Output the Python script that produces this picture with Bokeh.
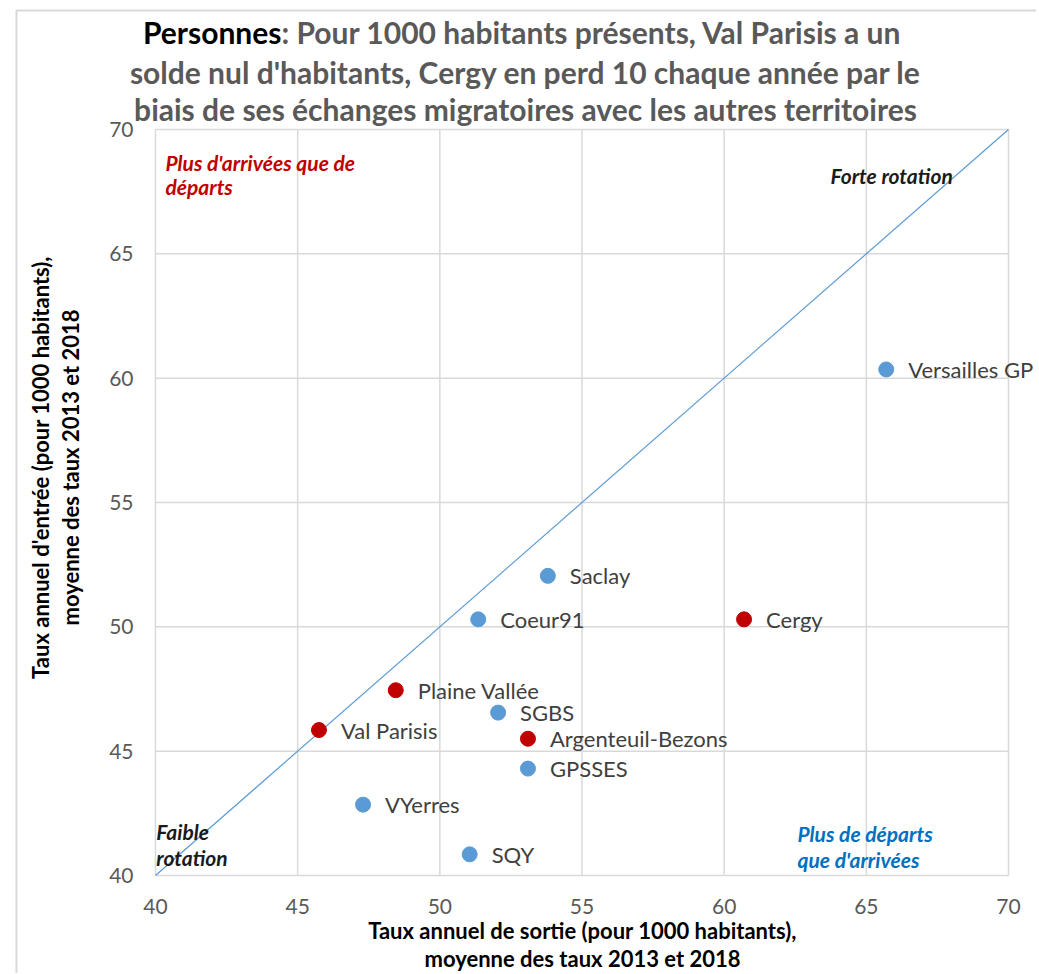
import math
from bokeh.plotting import figure
from bokeh.models import ColumnDataSource, FixedTicker, Range1d
from bokeh.core.properties import value
from bokeh.embed import file_html
from bokeh.resources import INLINE

territoires = ["Versailles GP", "Saclay", "Coeur91", "Cergy", "Plaine Vallée", "SGBS",
               "Val Parisis", "Argenteuil-Bezons", "GPSSES", "VYerres", "SQY"]
taux_sortie = [65.7, 53.8, 51.35, 60.7, 48.45, 52.05, 45.75, 53.1, 53.1, 47.3, 51.05]
taux_entree = [60.35, 52.05, 50.3, 50.3, 47.45, 46.55, 45.85, 45.5, 44.3, 42.85, 40.85]
groupe = ["bleu", "bleu", "bleu", "rouge", "rouge", "bleu", "rouge", "rouge", "bleu", "bleu", "bleu"]
ticks = [40, 45, 50, 55, 60, 65, 70]

title_bold = "Personnes"
title_lines = [": Pour 1000 habitants présents, Val Parisis a un",
               "solde nul d'habitants, Cergy en perd 10 chaque année par le",
               "biais de ses échanges migratoires avec les autres territoires"]
x_title = ["Taux annuel de sortie (pour 1000 habitants),", "moyenne des taux 2013 et 2018"]
y_title = ["Taux annuel d'entrée (pour 1000 habitants),", "moyenne des taux 2013 et 2018"]

couleurs = {"bleu": "#5B9BD5", "rouge": "#C00000"}
FONT = "Lato"
BORDER = "#D9D9D9"
lo, hi = ticks[0], ticks[-1]

src = ColumnDataSource(dict(x=taux_sortie, y=taux_entree, name=territoires,
                            color=[couleurs[g] for g in groupe]))

# the frame covers the whole canvas; the axes sit at x=40 / y=40 inside it
p = figure(width=1036, height=973, output_backend="svg", toolbar_location=None,
           x_range=Range1d(34.549, 70.985), y_range=Range1d(36.059, 75.187),
           min_border_left=0, min_border_right=0, min_border_top=0, min_border_bottom=0)
p.outline_line_color = None
p.background_fill_color = "white"
p.border_fill_color = "white"
p.xgrid.visible = False
p.ygrid.visible = False

for ax in (p.xaxis, p.yaxis):
    ax.fixed_location = lo
    ax.ticker = FixedTicker(ticks=ticks)
    ax.major_tick_out = 0
    ax.major_tick_in = 0
    ax.minor_tick_out = 0
    ax.minor_tick_in = 0
    ax.axis_line_color = None
    ax.major_label_text_font = FONT
    ax.major_label_text_font_size = "21px"
    ax.major_label_text_color = "#595959"
p.xaxis.major_label_standoff = 24
p.yaxis.major_label_standoff = 22

# outer chart border (top and left)
p.line(x=[35.111, 35.111, 70.985], y=[36.059, 74.785, 74.785], line_color=BORDER, line_width=2)

# grid drawn from the tick values, limited to the 40-70 square
p.segment(x0=ticks, y0=[lo] * len(ticks), x1=ticks, y1=[hi] * len(ticks),
          line_color=BORDER, line_width=1.5)
p.segment(x0=[lo] * len(ticks), y0=ticks, x1=[hi] * len(ticks), y1=ticks,
          line_color=BORDER, line_width=1.5)

# diagonal y = x
p.line(x=[lo, hi], y=[lo, hi], line_color="#5B9BD5", line_width=1.2)

p.scatter("x", "y", source=src, size=15, fill_color="color", line_color="color")
p.text("x", "y", text="name", source=src, x_offset=22, text_baseline="middle",
       text_font=value(FONT), text_font_size="22px", text_color="#404040")

def txt(x, y, s, color, size, style, align="left", angle=0.0):
    p.text(x=[x], y=[y], text=[s], text_color=color, text_font=value(FONT),
           text_font_size=size, text_font_style=style, angle=angle,
           text_baseline="middle", text_align=align)

# quadrant notes
note = ("21px", "bold italic")
txt(40.35, 68.67, "Plus d'arrivées que de", "#C00000", *note)
txt(40.35, 67.71, "départs", "#C00000", *note)
txt(63.74, 68.15, "Forte rotation", "#1a1a1a", *note)
txt(40.03, 41.77, "Faible", "#1a1a1a", *note)
txt(40.03, 40.72, "rotation", "#1a1a1a", *note)
txt(62.58, 41.69, "Plus de départs", "#0070C0", *note)
txt(62.58, 40.64, "que d'arrivées", "#0070C0", *note)

# axis titles
txt(55.018, 37.788, x_title[0], "black", "22px", "bold", align="center")
txt(55.018, 36.662, x_title[1], "black", "22px", "bold", align="center")
txt(35.955, 56.407, y_title[0], "black", "22px", "bold", align="center", angle=math.pi / 2)
txt(37.011, 56.407, y_title[1], "black", "22px", "bold", align="center", angle=math.pi / 2)

# title (three lines)
ts = ("30px", "bold")
txt(44.431, 73.940, title_bold, "black", *ts, align="right")
txt(44.431, 73.940, title_lines[0], "#595959", *ts)
txt(53.013, 72.292, title_lines[1], "#595959", *ts, align="center")
txt(53.013, 70.804, title_lines[2], "#595959", *ts, align="center")

open("out.html", "w").write(file_html(p, INLINE))
